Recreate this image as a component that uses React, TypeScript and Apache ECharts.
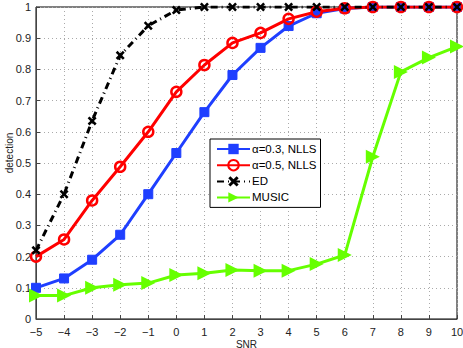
import React, { useEffect, useRef } from "react";
import * as echarts from "echarts";

const snr = [-5, -4, -3, -2, -1, 0, 1, 2, 3, 4, 5, 6, 7, 8, 9, 10];
const nlls03 = [0.1, 0.13, 0.19, 0.27, 0.4, 0.532, 0.663, 0.782, 0.869, 0.939, 0.98, 0.995, 1, 1, 1, 1];
const nlls05 = [0.2, 0.255, 0.38, 0.488, 0.6, 0.728, 0.814, 0.885, 0.917, 0.962, 0.985, 0.996, 1, 1, 1, 1];
const ed = [0.22, 0.4, 0.635, 0.845, 0.94, 0.99, 1, 1, 1, 1, 1, 1, 1, 1, 1, 1];
const music = [0.075, 0.075, 0.1, 0.11, 0.115, 0.141, 0.147, 0.157, 0.155, 0.155, 0.176, 0.205, 0.52, 0.792, 0.838, 0.873];
const seriesNames = ["α=0.3, NLLS", "α=0.5, NLLS", "ED", "MUSIC"];

const pair = (ys: number[]) => snr.map((x, i) => [x, ys[i]]);

const crossPath =
  "path://M2,0 L5,3 L8,0 L10,2 L7,5 L10,8 L8,10 L5,7 L2,10 L0,8 L3,5 L0,2 Z";
const triRight = "path://M0,0 L10,5 L0,10 Z";

export default function App() {
  const ref = useRef<HTMLDivElement>(null);
  useEffect(() => {
    if (!ref.current) return;
    const chart = echarts.init(ref.current, null, { renderer: "svg" });
    const font = "Liberation Sans, Arial, Helvetica, sans-serif";
    chart.setOption({
      animation: false,
      textStyle: { fontFamily: font },
      grid: {
        left: 36,
        right: 6,
        top: 7,
        bottom: 29,
        outerBoundsMode: "none",
        containLabel: false,
        show: true,
        borderColor: "#000",
        borderWidth: 1,
        backgroundColor: "#fff",
      },
      legend: {
        orient: "vertical",
        left: 210,
        top: 139,
        width: 110,
        data: seriesNames,
        backgroundColor: "#fff",
        borderColor: "#000",
        borderWidth: 1,
        borderRadius: 0,
        padding: [4, 4, 4, 6],
        itemGap: 4,
        itemWidth: 33,
        itemHeight: 13,
        textStyle: { fontSize: 11.5, color: "#000", fontFamily: font, padding: [0, 0, 0, -3] },
      },
      xAxis: {
        type: "value",
        min: -5,
        max: 10,
        interval: 1,
        name: "SNR",
        nameLocation: "middle",
        nameGap: 20,
        nameMoveOverlap: false,
        nameTextStyle: { fontSize: 10, color: "#222" },
        axisLine: { show: true, onZero: false, lineStyle: { color: "#444" } },
        axisTick: { inside: true, length: 4, lineStyle: { color: "#444" } },
        axisLabel: {
          fontSize: 11,
          color: "#222",
          margin: 7,
          formatter: (v: number) => String(v).replace("-", "\u2212"),
        },
        splitLine: { show: true, lineStyle: { color: "#aaa", type: [1, 3], width: 1 } },
      },
      yAxis: {
        type: "value",
        min: 0,
        max: 1,
        interval: 0.1,
        name: "detection",
        nameLocation: "middle",
        nameGap: 22,
        nameMoveOverlap: false,
        nameTextStyle: { fontSize: 10, color: "#222", padding: [0, 0, 0, 20] },
        axisLine: { show: true, onZero: false, lineStyle: { color: "#444" } },
        axisTick: { inside: true, length: 4, lineStyle: { color: "#444" } },
        axisLabel: {
          fontSize: 11,
          color: "#222",
          margin: 5,
          formatter: (v: number) => (v === 0 ? "0" : v === 1 ? "1" : v.toFixed(1)),
        },
        splitLine: { show: true, lineStyle: { color: "#aaa", type: [1, 3], width: 1 } },
      },
      series: [
        {
          name: seriesNames[0],
          type: "line",
          data: pair(nlls03),
          symbol: "rect",
          symbolSize: 9,
          lineStyle: { color: "#1f3fff", width: 3 },
          itemStyle: { color: "#1f3fff", borderColor: "#1f3fff" },
        },
        {
          name: seriesNames[1],
          type: "line",
          data: pair(nlls05),
          symbol: "circle",
          symbolSize: 10,
          lineStyle: { color: "#ff0000", width: 3 },
          itemStyle: { color: "rgba(255,255,255,0)", borderColor: "#ff0000", borderWidth: 2.5 },
        },
        {
          name: seriesNames[2],
          type: "line",
          data: pair(ed),
          symbol: crossPath,
          symbolSize: 9,
          lineStyle: { color: "#000", width: 3, type: [7, 4, 1, 4] },
          itemStyle: { color: "#000" },
        },
        {
          name: seriesNames[3],
          type: "line",
          data: pair(music),
          symbol: triRight,
          symbolSize: [14, 14],
          lineStyle: { color: "#66ff00", width: 3 },
          itemStyle: { color: "#66ff00" },
        },
      ],
    });
    return () => chart.dispose();
  }, []);
  return <div ref={ref} style={{ width: 463, height: 348, position: "absolute", left: 0, top: 0 }} />;
}
